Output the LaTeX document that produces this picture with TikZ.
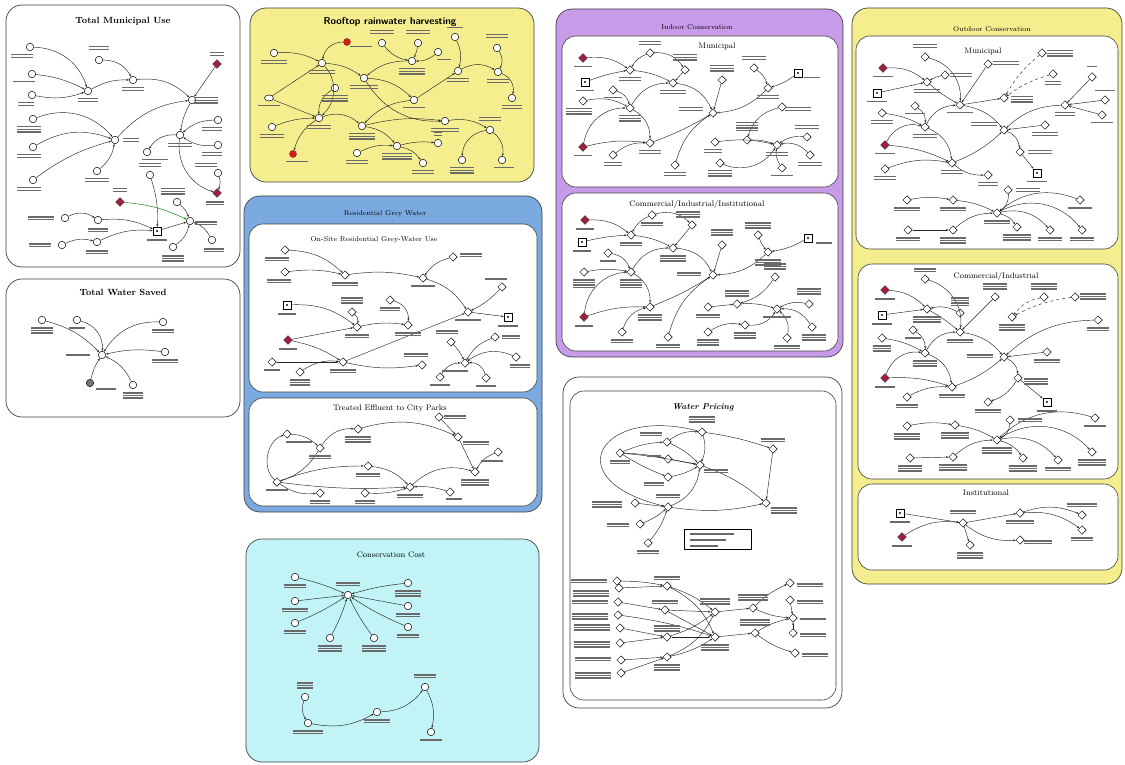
\documentclass[tikz,border=0pt]{standalone}
\usetikzlibrary{shapes.geometric,arrows.meta,calc}
\definecolor{yel}{HTML}{F4EE8E}
\definecolor{pur}{HTML}{C79BE8}
\definecolor{blu}{HTML}{7BAAE0}
\definecolor{cya}{HTML}{C2F3F6}
\definecolor{dred}{HTML}{9E1F3E}
\definecolor{rred}{HTML}{D0201C}
\definecolor{labc}{HTML}{6A6A6A}
\newcommand\Nd[3][v]{\node[#1] (#2) at (#3) {};}
\newcommand\E[3][]{\draw[cn,#1] (#2) to (#3);}
\newcommand\lb[4]{\pic at ($(#1)+(#2)$) {sm={#3}{#4}};}
\begin{document}
\begin{tikzpicture}[x=1pt,y=-1pt,
  v/.style={circle,draw=black,fill=white,line width=0.5pt,inner sep=0pt,minimum size=7.5pt},
  w/.style={diamond,draw=black,fill=white,line width=0.5pt,inner sep=0pt,minimum size=8.5pt},
  dm/.style={diamond,draw=black!80,fill=dred,line width=0.4pt,inner sep=0pt,minimum size=9pt},
  rc/.style={circle,draw=rred!70!black,fill=rred,inner sep=0pt,minimum size=7pt},
  sq/.style={rectangle,draw=black,fill=white,line width=0.5pt,inner sep=0pt,minimum size=8pt,
    path picture={\fill[black!70] ([shift={(-1.2pt,-1.2pt)}]path picture bounding box.center) rectangle ++(2.4pt,2.4pt);}},
  cld/.style={ellipse,draw=black,fill=white,line width=0.5pt,inner sep=0pt,minimum width=9pt,minimum height=6pt},
  cn/.style={draw=black!85,line width=0.45pt,-{Stealth[length=2.6pt,width=2pt]}},
  dcn/.style={cn,dashed},
  pnl/.style={draw=black!75,line width=0.7pt,rounded corners=16pt},
  ipnl/.style={draw=black!75,line width=0.6pt,fill=white,rounded corners=14pt},
  ttl/.style={font=\fontsize{9}{10}\selectfont\bfseries,inner sep=1pt},
  sttl/.style={font=\fontsize{7}{8}\selectfont,inner sep=1pt},
  mttl/.style={font=\fontsize{8}{9}\selectfont,inner sep=1pt},
  pics/sm/.style 2 args={code={\foreach \i in {1,...,#2}{\fill[labc] ({-#1/2},{(\i-1)*2.6}) rectangle ({#1/2},{(\i-1)*2.6+1.5});}}}
]
\useasboundingbox (0,0) rectangle (1125,765);
\fill[white] (0,0) rectangle (1125,765);

% ================= panels =================
\draw[pnl,fill=white] (6,5) rectangle (240,267);
\draw[pnl,fill=white] (6,279) rectangle (240,417);
\draw[pnl,fill=yel] (250,8) rectangle (534,182);
\draw[pnl,fill=blu] (244,196) rectangle (542,512);
\draw[ipnl] (249,224) rectangle (537,392);
\draw[ipnl] (249,398) rectangle (537,506);
\draw[pnl,fill=cya] (246,539) rectangle (539,762);
\draw[pnl,fill=pur] (556,9) rectangle (843,357);
\draw[ipnl] (562,36) rectangle (838,187);
\draw[ipnl] (562,193) rectangle (838,351);
\draw[pnl,fill=white] (563,377) rectangle (842,708);
\draw[draw=black!75,line width=0.6pt,rounded corners=14pt] (570,391) rectangle (836,700);
\draw[pnl,fill=yel] (852,8) rectangle (1122,584);
\draw[ipnl] (856,36) rectangle (1118,249);
\draw[ipnl] (858,264) rectangle (1118,479);
\draw[ipnl] (858,484) rectangle (1118,570);

% ================= titles =================
\node[ttl] (T1) at (123,21) {Total Municipal Use};
\node[ttl] (T2) at (123,292) {Total Water Saved};
\node[font=\fontsize{10}{11}\selectfont\sffamily\bfseries,inner sep=1pt] (T3) at (390,22) {Rooftop rainwater harvesting};
\node[sttl] (T4) at (385,214) {Residential Grey Water};
\node[sttl] (T5) at (374,240) {On-Site Residential Grey-Water Use};
\node[mttl] (T6) at (390,408) {Treated Effluent to City Parks};
\node[mttl] (T7) at (391,555) {Conservation Cost};
\node[sttl] (T8) at (697,27) {Indoor Conservation};
\node[mttl] (T9) at (717,47) {Municipal};
\node[mttl] (T10) at (697,205) {Commercial/Industrial/Institutional};
\node[font=\fontsize{8.5}{10}\selectfont\bfseries\itshape,inner sep=1pt] (T11) at (703,407) {Water Pricing};
\node[sttl] (T12) at (992,29) {Outdoor Conservation};
\node[mttl] (T13) at (983,52) {Municipal};
\node[mttl] (T14) at (996,276) {Commercial/Industrial};
\node[mttl] (T15) at (986,493) {Institutional};

% ================= Total Municipal Use =================
\Nd{a1}{30,47} \Nd{a2}{32,74} \Nd{a3}{32,95} \Nd{a4}{88,91} \Nd{a5}{99,60}
\Nd{a6}{133,80} \Nd{a7}{192,100} \Nd[dm]{a8}{217,64} \Nd{a9}{33,119} \Nd{a10}{33,147}
\Nd{a11}{33,180} \Nd{a12}{115,140} \Nd{a13}{97,171} \Nd{a14}{218,120} \Nd{a15}{218,145}
\Nd{a16}{180,135} \Nd{a17}{147,152} \Nd{a18}{150,175} \Nd{a19}{218,173} \Nd[dm]{a20}{217,193}
\Nd[dm]{a21}{120,202} \Nd{a22}{177,202} \Nd{a23}{190,221} \Nd{a24}{65,218} \Nd{a25}{98,220}
\Nd[sq]{a26}{157,231} \Nd{a27}{62,245} \Nd{a28}{97,242} \Nd{a29}{173,247} \Nd{a30}{212,240}
\E[bend left=35]{a1}{a4} \E[bend left=10]{a2}{a4} \E[bend right=15]{a3}{a4}
\E[bend left=30]{a5}{a6} \E[bend left=15]{a4}{a6} \E[bend left=25]{a6}{a7} \E{a8}{a7}
\E[bend left=35]{a9}{a12} \E[bend left=25]{a10}{a12} \E[bend left=10]{a11}{a12} \E[bend right=20]{a13}{a12}
\E[bend left=20]{a12}{a7} \E[bend right=10]{a7}{a16} \E[bend right=20]{a14}{a16} \E[bend left=20]{a15}{a16}
\E[bend right=30]{a16}{a17} \E[bend right=40]{a16}{a20} \E[bend left=20]{a19}{a20}
\E[bend left=10]{a18}{a26} \E[bend left=10,draw=green!50!black]{a21}{a23} \E[bend left=15]{a22}{a23}
\E[bend left=30]{a24}{a25} \E[bend left=15]{a25}{a26} \E{a26}{a23} \E[bend left=20]{a27}{a28}
\E[bend left=15]{a28}{a26} \E[bend right=20]{a29}{a23} \E[bend right=20]{a30}{a23}
\lb{a1}{-8,7}{22}{2} \lb{a2}{-8,7}{22}{1} \lb{a3}{-6,7}{16}{2} \lb{a4}{0,7}{20}{2} \lb{a5}{0,-14}{20}{2}
\lb{a6}{0,7}{22}{2} \lb{a7}{14,-3}{24}{3} \lb{a8}{0,-12}{14}{2} \lb{a9}{-4,7}{24}{3} \lb{a10}{-4,7}{24}{2}
\lb{a11}{-4,7}{24}{2} \lb{a12}{16,-2}{16}{2} \lb{a13}{0,7}{24}{2} \lb{a14}{-6,7}{20}{2} \lb{a15}{-6,7}{20}{2}
\lb{a16}{0,8}{24}{2} \lb{a17}{8,7}{26}{1} \lb{a18}{0,-12}{22}{2} \lb{a19}{-12,-10}{22}{2} \lb{a20}{-2,8}{18}{2}
\lb{a21}{0,-14}{14}{2} \lb{a22}{-4,-14}{24}{3} \lb{a23}{16,0}{22}{2} \lb{a24}{-24,-2}{26}{2} \lb{a25}{0,8}{20}{2}
\lb{a26}{0,8}{20}{1} \lb{a27}{-22,-2}{22}{2} \lb{a28}{0,8}{22}{2} \lb{a29}{0,8}{22}{3} \lb{a30}{2,8}{20}{2}

% ================= Total Water Saved =================
\Nd{b1}{42,320} \Nd{b2}{77,320} \Nd{b3}{102,355} \Nd{b4}{163,322} \Nd{b5}{165,352}
\node[circle,draw=black,fill=black!55,inner sep=0pt,minimum size=7.5pt] (b6) at (90,383) {};
\Nd{b7}{133,385}
\E[bend left=15]{b1}{b3} \E[bend left=40]{b2}{b3} \E[bend right=30]{b4}{b3} \E[bend right=10]{b5}{b3}
\E[bend left=10]{b6}{b3} \E[bend right=20]{b7}{b3}
\lb{b1}{0,7}{22}{3} \lb{b2}{0,7}{16}{1} \lb{b3}{-24,-1}{24}{1} \lb{b4}{0,7}{22}{2} \lb{b5}{0,7}{26}{2}
\lb{b6}{16,5}{20}{1} \lb{b7}{0,7}{20}{3}

% ================= Rooftop rainwater harvesting =================
\Nd[rc]{c1}{347,42} \Nd{c2}{274,53} \Nd{c3}{322,63} \Nd{c4}{382,43} \Nd{c5}{418,43}
\Nd{c6}{438,52} \Nd{c7}{412,61} \Nd{c8}{455,37} \Nd{c9}{497,48} \Nd{c10}{458,71}
\Nd{c11}{498,72} \Nd{c12}{364,78} \Nd{c13}{335,88} \Nd[cld]{c14}{269,98} \Nd{c15}{414,100}
\Nd{c16}{512,98} \Nd{c17}{319,118} \Nd{c18}{362,126} \Nd{c19}{445,121} \Nd{c20}{490,130}
\Nd{c21}{272,127} \Nd{c22}{397,146} \Nd{c23}{438,143} \Nd{c24}{357,153} \Nd[rc]{c25}{293,154}
\Nd{c26}{423,163} \Nd{c27}{462,160} \Nd{c28}{502,160}
\E[bend right=40]{c1}{c3} \E[bend left=15]{c2}{c3} \E[bend left=15]{c3}{c12} \E{c14}{c3} \E{c14}{c17}
\E[bend left=45]{c3}{c17} \E[bend right=30]{c13}{c17} \E[bend right=20]{c4}{c7} \E[bend left=10]{c5}{c7}
\E[bend left=20]{c6}{c7} \E[bend right=20]{c7}{c12} \E[bend right=30]{c12}{c19} \E[bend left=20]{c12}{c15}
\E[bend right=20]{c15}{c18} \E{c15}{c10} \E[bend left=20]{c8}{c10} \E[bend left=30]{c10}{c11}
\E[bend left=30]{c9}{c11} \E[bend left=40]{c11}{c16} \E[bend left=30]{c17}{c18} \E[bend left=10]{c18}{c19}
\E[bend left=20]{c19}{c20} \E[bend left=30]{c20}{c28} \E[bend right=40]{c20}{c27} \E[bend left=10]{c21}{c17}
\E[bend right=20]{c17}{c25} \E[bend left=20]{c18}{c22} \E[bend left=10]{c22}{c23} \E[bend left=20]{c22}{c26}
\E[bend left=15]{c24}{c22}
\lb{c1}{14,4}{22}{1} \lb{c2}{0,7}{26}{2} \lb{c3}{0,7}{26}{2} \lb{c4}{0,-13}{24}{2} \lb{c5}{0,-13}{24}{2}
\lb{c6}{6,7}{14}{1} \lb{c7}{0,7}{26}{3} \lb{c8}{0,-10}{16}{1} \lb{c9}{0,-14}{22}{2} \lb{c10}{0,7}{22}{2}
\lb{c11}{0,7}{22}{2} \lb{c12}{0,7}{28}{2} \lb{c13}{0,7}{26}{3} \lb{c14}{0,7}{22}{1} \lb{c15}{0,7}{22}{1}
\lb{c16}{0,7}{20}{2} \lb{c17}{0,7}{24}{2} \lb{c18}{0,7}{26}{3} \lb{c19}{0,7}{28}{2} \lb{c20}{0,-13}{22}{2}
\lb{c21}{0,7}{24}{2} \lb{c22}{0,7}{30}{3} \lb{c23}{0,-11}{8}{2} \lb{c24}{0,7}{22}{2} \lb{c25}{4,7}{22}{1}
\lb{c26}{0,7}{22}{2} \lb{c27}{0,7}{24}{3} \lb{c28}{2,7}{20}{1}

% ================= On-Site Residential Grey-Water Use =================
\Nd[w]{d1}{285,250} \Nd[w]{d2}{285,272} \Nd[w]{d3}{345,275} \Nd[w]{d4}{453,257} \Nd[w]{d5}{423,278}
\Nd[w]{d6}{502,287} \Nd[sq]{d7}{287,305} \Nd[w]{d8}{352,312} \Nd[w]{d9}{357,327} \Nd[w]{d10}{390,300}
\Nd[w]{d11}{408,325} \Nd[w]{d12}{468,312} \Nd[sq]{d13}{508,317} \Nd[dm]{d14}{288,340} \Nd[w]{d15}{272,362}
\Nd[w]{d16}{343,362} \Nd[w]{d17}{300,372} \Nd[w]{d18}{422,365} \Nd[w]{d19}{451,342} \Nd[w]{d20}{465,363}
\Nd[w]{d21}{495,337} \Nd[w]{d22}{516,357} \Nd[w]{d23}{440,377} \Nd[w]{d24}{486,378}
\E[bend left=20]{d1}{d3} \E[bend left=10]{d2}{d3} \E[bend left=10]{d3}{d5} \E[bend right=20]{d4}{d5}
\E[bend left=20]{d5}{d12} \E[bend left=10]{d6}{d12} \E{d12}{d13} \E[bend left=20]{d7}{d9}
\E[bend left=30]{d8}{d9} \E{d14}{d9} \E[bend left=10]{d14}{d16} \E[bend left=10]{d9}{d11}
\E[bend left=40]{d10}{d11} \E{d16}{d12} \E{d15}{d16} \E[bend left=20]{d17}{d16} \E[bend right=10]{d16}{d18}
\E[bend left=10]{d19}{d20} \E[bend right=20]{d21}{d20} \E[bend right=30]{d22}{d20} \E[bend left=30]{d23}{d20}
\E[bend right=40]{d24}{d20}
\lb{d1}{-8,7}{24}{2} \lb{d2}{-6,7}{24}{2} \lb{d3}{0,7}{26}{2} \lb{d4}{18,-4}{22}{2} \lb{d5}{0,7}{24}{1}
\lb{d6}{-6,-9}{22}{1} \lb{d7}{0,8}{18}{1} \lb{d8}{0,-15}{22}{3} \lb{d9}{0,7}{24}{2} \lb{d10}{0,7}{20}{2}
\lb{d11}{0,7}{26}{2} \lb{d12}{0,7}{26}{1} \lb{d13}{0,8}{20}{1} \lb{d14}{0,8}{18}{1} \lb{d15}{0,7}{16}{1}
\lb{d16}{0,7}{26}{2} \lb{d17}{0,7}{20}{3} \lb{d18}{-6,-12}{24}{2} \lb{d19}{-4,-12}{22}{2} \lb{d20}{-10,7}{26}{1}
\lb{d21}{16,-2}{18}{2} \lb{d22}{4,7}{20}{2} \lb{d23}{0,7}{20}{1} \lb{d24}{0,7}{20}{1}

% ================= Treated Effluent to City Parks =================
\Nd[w]{e1}{287,434} \Nd[w]{e2}{320,448} \Nd[w]{e3}{358,429} \Nd[w]{e4}{439,417} \Nd[w]{e5}{458,437}
\Nd[w]{e6}{498,452} \Nd[w]{e7}{475,472} \Nd[w]{e8}{277,482} \Nd[w]{e9}{368,466} \Nd[w]{e10}{410,487}
\Nd[w]{e11}{320,493} \Nd[w]{e12}{365,493} \Nd[w]{e13}{450,492}
\E[bend left=60]{e8}{e1} \E[bend left=20]{e1}{e2} \E[bend left=20]{e2}{e8} \E[bend left=30]{e2}{e3}
\E[bend left=20]{e3}{e5} \E{e4}{e5} \E{e5}{e7} \E[bend right=20]{e6}{e7} \E[bend left=10]{e8}{e9}
\E[bend left=20]{e9}{e10} \E[bend right=5]{e8}{e10} \E[bend left=30]{e10}{e7} \E[bend right=10]{e12}{e10}
\E[bend right=10]{e13}{e10} \E[bend right=20]{e8}{e11}
\lb{e1}{12,7}{26}{1} \lb{e2}{0,7}{22}{2} \lb{e3}{0,7}{26}{3} \lb{e4}{16,-2}{22}{2} \lb{e5}{18,4}{26}{2}
\lb{e6}{-6,8}{22}{1} \lb{e7}{0,7}{28}{3} \lb{e8}{0,7}{22}{1} \lb{e9}{0,7}{24}{2} \lb{e10}{0,7}{26}{2}
\lb{e11}{0,7}{20}{2} \lb{e12}{0,7}{20}{2} \lb{e13}{4,6}{16}{1}

% ================= Conservation Cost =================
\Nd{f1}{295,577} \Nd{f2}{295,601} \Nd{f3}{295,623} \Nd{f4}{348,595} \Nd{f5}{330,638}
\Nd{f6}{374,638} \Nd{f7}{408,583} \Nd{f8}{408,606} \Nd{f9}{408,627} \Nd{f10}{305,697}
\Nd{f11}{308,723} \Nd{f12}{377,712} \Nd{f13}{425,687} \Nd{f14}{431,732}
\E[bend left=5]{f1}{f4} \E{f2}{f4} \E[bend right=5]{f3}{f4} \E[bend right=5]{f5}{f4} \E[bend left=5]{f6}{f4}
\E[bend right=5]{f7}{f4} \E{f8}{f4} \E[bend left=5]{f9}{f4}
\E[bend right=25]{f10}{f11} \E[bend right=20]{f11}{f12} \E[bend right=25]{f12}{f13} \E[bend left=20]{f13}{f14}
\lb{f1}{0,7}{22}{2} \lb{f2}{0,7}{26}{2} \lb{f3}{0,7}{22}{2} \lb{f4}{0,-13}{24}{2} \lb{f5}{0,7}{24}{3}
\lb{f6}{0,7}{24}{3} \lb{f7}{0,7}{26}{3} \lb{f8}{0,7}{24}{2} \lb{f9}{0,7}{22}{2} \lb{f10}{0,-15}{16}{3}
\lb{f11}{0,7}{30}{2} \lb{f12}{0,7}{26}{2} \lb{f13}{0,-13}{22}{2} \lb{f14}{0,7}{22}{1}

% ================= Indoor: Municipal =================
\Nd[dm]{g1}{583,58} \Nd[w]{g2}{650,53} \Nd[w]{g3}{630,70} \Nd[sq]{g4}{585,82} \Nd[w]{g5}{685,70}
\Nd[w]{g6}{673,83} \Nd[w]{g7}{613,90} \Nd[w]{g8}{583,101} \Nd[w]{g9}{630,108} \Nd[dm]{g10}{583,147}
\Nd[w]{g11}{650,143} \Nd[w]{g12}{613,155} \Nd[w]{g13}{722,80} \Nd[w]{g14}{754,68} \Nd[w]{g15}{768,88}
\Nd[sq]{g16}{798,73} \Nd[w]{g17}{713,113} \Nd[w]{g18}{782,107} \Nd[w]{g19}{747,140} \Nd[w]{g20}{777,145}
\Nd[w]{g21}{807,137} \Nd[w]{g22}{810,155} \Nd[w]{g23}{715,142} \Nd[w]{g24}{675,165} \Nd[w]{g25}{720,163}
\Nd[w]{g26}{782,168}
\E[bend left=20]{g1}{g3} \E[bend right=20]{g2}{g3} \E[bend left=30]{g2}{g5} \E[bend left=5]{g4}{g3}
\E[bend left=10]{g3}{g6} \E{g5}{g6} \E[bend left=30]{g6}{g17} \E[bend left=30]{g9}{g6} \E[bend left=30]{g7}{g9}
\E[bend left=20]{g8}{g9} \E[bend left=30]{g9}{g11} \E[bend left=10]{g10}{g11} \E[bend left=40]{g10}{g9}
\E[bend left=20]{g12}{g11} \E[bend right=5]{g11}{g17} \E{g13}{g17} \E[bend left=20]{g14}{g15}
\E[bend left=10]{g16}{g15} \E[bend left=20]{g15}{g17} \E[bend left=20]{g24}{g17} \E[bend right=30]{g18}{g19}
\E[bend left=10]{g19}{g20} \E[bend right=20]{g21}{g20} \E[bend right=30]{g22}{g20} \E[bend left=10]{g23}{g20}
\E[bend right=40]{g25}{g20} \E[bend left=20]{g26}{g20}
\lb{g1}{0,8}{18}{1} \lb{g2}{0,-12}{22}{2} \lb{g3}{0,7}{22}{2} \lb{g4}{0,8}{18}{1} \lb{g5}{0,-16}{24}{3}
\lb{g6}{0,7}{26}{2} \lb{g7}{0,7}{18}{1} \lb{g8}{-4,7}{26}{3} \lb{g9}{0,7}{22}{3} \lb{g10}{0,8}{18}{1}
\lb{g11}{0,7}{22}{2} \lb{g12}{0,7}{18}{2} \lb{g13}{0,-15}{24}{3} \lb{g14}{0,-12}{24}{2} \lb{g15}{0,7}{22}{2}
\lb{g16}{14,4}{16}{1} \lb{g17}{-22,-6}{24}{2} \lb{g18}{16,0}{26}{2} \lb{g19}{0,-18}{22}{4} \lb{g20}{0,7}{22}{2}
\lb{g21}{0,-12}{24}{2} \lb{g22}{0,7}{24}{2} \lb{g23}{-2,7}{18}{2} \lb{g24}{0,7}{22}{2} \lb{g25}{0,7}{24}{3}
\lb{g26}{0,7}{22}{1}

% ================= Indoor: Commercial/Industrial/Institutional =================
\Nd[dm]{h1}{585,220} \Nd[w]{h2}{652,215} \Nd[w]{h3}{631,235} \Nd[w]{h4}{692,225} \Nd[sq]{h5}{582,242}
\Nd[w]{h6}{673,248} \Nd[w]{h7}{608,253} \Nd[w]{h8}{584,272} \Nd[w]{h9}{631,272} \Nd[w]{h10}{722,245}
\Nd[w]{h11}{758,235} \Nd[sq]{h12}{808,238} \Nd[w]{h13}{768,252} \Nd[w]{h14}{713,275} \Nd[w]{h15}{775,277}
\Nd[dm]{h16}{584,317} \Nd[w]{h17}{650,307} \Nd[w]{h18}{622,332} \Nd[w]{h19}{668,337} \Nd[w]{h20}{708,307}
\Nd[w]{h21}{737,304} \Nd[w]{h22}{777,309} \Nd[w]{h23}{809,304} \Nd[w]{h24}{745,325} \Nd[w]{h25}{708,332}
\Nd[w]{h26}{787,338} \Nd[w]{h27}{812,327}
\E[bend left=20]{h1}{h3} \E[bend right=20]{h2}{h3} \E[bend left=30]{h2}{h4} \E[bend left=5]{h5}{h3}
\E[bend left=10]{h3}{h6} \E{h4}{h6} \E[bend left=30]{h6}{h14} \E[bend left=30]{h9}{h6} \E[bend left=30]{h7}{h9}
\E[bend left=10]{h8}{h9} \E[bend left=30]{h9}{h17} \E[bend left=10]{h16}{h17} \E[bend left=40]{h16}{h9}
\E[bend left=30]{h18}{h17} \E[bend right=5]{h17}{h14} \E{h10}{h14} \E[bend right=10]{h11}{h13}
\E[bend left=10]{h12}{h13} \E[bend left=20]{h13}{h14} \E[bend left=20]{h19}{h14} \E[bend left=20]{h15}{h21}
\E{h20}{h21} \E[bend left=10]{h21}{h22} \E[bend right=20]{h23}{h22} \E[bend right=30]{h24}{h22}
\E[bend left=20]{h25}{h24} \E[bend right=30]{h26}{h22} \E[bend right=30]{h27}{h22}
\lb{h1}{0,8}{18}{1} \lb{h2}{0,7}{22}{2} \lb{h3}{0,7}{22}{2} \lb{h4}{-4,-14}{24}{3} \lb{h5}{0,8}{18}{1}
\lb{h6}{0,7}{26}{3} \lb{h7}{0,7}{16}{1} \lb{h8}{0,7}{22}{4} \lb{h9}{0,7}{22}{4} \lb{h10}{0,-16}{22}{3}
\lb{h11}{0,-13}{26}{3} \lb{h12}{16,4}{16}{1} \lb{h13}{0,7}{26}{3} \lb{h14}{-24,-3}{24}{2} \lb{h15}{0,-14}{22}{3}
\lb{h16}{0,8}{18}{1} \lb{h17}{0,7}{24}{3} \lb{h18}{0,7}{22}{2} \lb{h19}{0,7}{24}{2} \lb{h20}{0,7}{24}{2}
\lb{h21}{0,-14}{24}{3} \lb{h22}{0,7}{28}{1} \lb{h23}{0,-16}{24}{3} \lb{h24}{0,7}{22}{3} \lb{h25}{0,7}{22}{3}
\lb{h26}{0,7}{26}{2} \lb{h27}{2,7}{24}{3}

% ================= Water Pricing =================
\Nd[w]{p1}{702,432} \Nd[w]{p2}{773,449} \Nd[w]{p3}{620,453} \Nd[w]{p4}{667,442} \Nd[w]{p5}{668,459}
\Nd[w]{p6}{700,465} \Nd[w]{p7}{668,477} \Nd[w]{p8}{635,503} \Nd[w]{p9}{668,507} \Nd[w]{p10}{766,503}
\Nd[w]{p11}{640,524} \Nd[w]{p12}{648,543}
\node[draw=black,line width=0.6pt,minimum width=67pt,minimum height=20pt,inner sep=0pt] (leg) at (718,539) {};
\E[bend left=5]{p1}{p2} \E{p2}{p10} \E[bend left=10]{p3}{p4} \E[bend left=5]{p3}{p5} \E[bend left=3]{p3}{p6}
\E[bend right=5]{p3}{p7} \E[bend left=10]{p4}{p6} \E{p5}{p6} \E[bend right=10]{p7}{p6}
\draw[cn] (p1) .. controls (600,405) and (555,480) .. (p9);
\E[bend left=20]{p4}{p1} \E[bend left=20]{p1}{p6} \E[bend left=10]{p6}{p10} \E[bend right=10]{p9}{p10}
\E{p8}{p9} \E[bend right=10]{p11}{p9} \E[bend right=10]{p12}{p9} \E[bend right=30]{p9}{p6}
\lb{p1}{0,-16}{26}{3} \lb{p2}{0,-11}{24}{2} \lb{p3}{0,7}{20}{2} \lb{p4}{-16,-10}{22}{2} \lb{p5}{-14,-4}{14}{1}
\lb{p6}{16,4}{24}{2} \lb{p7}{-14,5}{20}{2} \lb{p8}{-28,-2}{30}{3} \lb{p9}{0,-13}{24}{2} \lb{p10}{18,4}{26}{3}
\lb{p11}{-22,-1}{22}{2} \lb{p12}{0,7}{22}{2}
\pic at (712,533) {sm={44}{1}}; \pic at (708,539) {sm={36}{1}}; \pic at (704,545) {sm={28}{1}};

\Nd[w]{q1}{617,581} \Nd[w]{q2}{619,588} \Nd[w]{q3}{618,602} \Nd[w]{q4}{618,615}
\Nd[w]{q5}{620,628} \Nd[w]{q6}{620,643} \Nd[w]{q7}{621,660} \Nd[w]{q8}{621,673}
\Nd[w]{r1}{667,586} \Nd[w]{r2}{665,610} \Nd[w]{r3}{667,637} \Nd[w]{r4}{667,657}
\Nd[w]{s1}{715,612} \Nd[w]{s2}{715,637} \Nd[w]{t1}{753,608} \Nd[w]{t2}{755,633}
\Nd[w]{u1}{790,583} \Nd[w]{u2}{790,600} \Nd[w]{u3}{793,618} \Nd[w]{u4}{793,633} \Nd[w]{u5}{795,653}
\E[bend left=5]{q1}{r1} \E{q2}{r1} \E{q3}{r2} \E[bend left=5]{q4}{s2} \E{q5}{r3} \E{q6}{r3}
\E{q7}{r4} \E{q8}{r4}
\E[bend left=20]{r1}{s2} \E[bend left=10]{r1}{s1} \E{r2}{s1} \E{r2}{s2} \E[bend right=10]{r3}{s1}
\E{r3}{s2} \E[bend right=20]{r4}{s1} \E[bend right=10]{r4}{s2}
\E{s1}{t1} \E{s2}{t2} \E[bend right=10]{t1}{u3} \E[bend left=10]{t2}{u3} \E[bend left=10]{t1}{u1}
\E{u2}{u3} \E{u4}{u3} \E[bend right=10]{t2}{u5}
\lb{q1}{-28,-2}{36}{2} \lb{q2}{-28,2}{36}{3} \lb{q3}{-28,-2}{36}{2} \lb{q4}{-28,-2}{36}{3}
\lb{q5}{-28,-4}{36}{3} \lb{q6}{-28,-2}{36}{3} \lb{q7}{-28,-3}{36}{2} \lb{q8}{-28,-1}{36}{3}
\lb{r1}{0,-10}{26}{2} \lb{r2}{0,-10}{26}{2} \lb{r3}{0,-12}{26}{3} \lb{r4}{0,7}{26}{3}
\lb{s1}{0,-14}{30}{3} \lb{s2}{0,7}{28}{3} \lb{t1}{0,-14}{30}{3} \lb{t2}{0,-14}{30}{3}
\lb{u1}{20,0}{26}{2} \lb{u2}{20,0}{26}{2} \lb{u3}{20,0}{26}{1} \lb{u4}{20,0}{26}{2} \lb{u5}{20,0}{26}{2}

% ================= Outdoor: Municipal =================
\Nd[w]{k1}{925,57} \Nd[dm]{k2}{883,68} \Nd[w]{k3}{945,75} \Nd[w]{k4}{988,64} \Nd[w]{k5}{1042,53}
\Nd[w]{k6}{1053,74} \Nd[w]{k7}{927,82} \Nd[sq]{k8}{877,93} \Nd[w]{k9}{1004,98} \Nd[w]{k10}{960,105}
\Nd[w]{k11}{1092,77} \Nd[w]{k12}{1105,100} \Nd[w]{k13}{1065,105} \Nd[w]{k14}{1102,115} \Nd[w]{k15}{915,106}
\Nd[w]{k16}{882,113} \Nd[w]{k17}{925,127} \Nd[dm]{k18}{885,145} \Nd[w]{k19}{1004,130} \Nd[w]{k20}{1045,125}
\Nd[w]{k21}{1020,152} \Nd[w]{k22}{952,163} \Nd[w]{k23}{988,175} \Nd[sq]{k24}{1037,173} \Nd[w]{k25}{885,169}
\Nd[w]{k26}{907,200} \Nd[w]{k27}{953,200} \Nd[w]{k28}{1008,190} \Nd[w]{k29}{1080,200} \Nd[w]{k30}{997,213}
\Nd[w]{k31}{908,230} \Nd[w]{k32}{953,230} \Nd[w]{k33}{1017,227} \Nd[w]{k34}{1050,230} \Nd[w]{k35}{1082,230}
\E[bend left=20]{k2}{k7} \E[bend left=40]{k1}{k10} \E[bend right=10]{k3}{k7} \E{k8}{k7} \E{k4}{k10}
\E[bend right=5]{k7}{k10} \E[bend left=20]{k10}{k19} \E[dcn,bend right=10]{k5}{k9} \E[dcn,bend right=10]{k6}{k9}
\E{k10}{k9} \E[bend left=30]{k15}{k17} \E[bend left=10]{k16}{k17} \E[bend left=30]{k17}{k10}
\E[bend left=30]{k17}{k22} \E[bend left=10]{k18}{k22} \E[bend left=40]{k18}{k17} \E[bend left=15]{k25}{k22}
\E[bend right=10]{k22}{k19} \E{k11}{k13} \E{k12}{k13} \E{k14}{k13} \E[bend right=20]{k13}{k19}
\E{k20}{k19} \E[bend left=30]{k19}{k21} \E{k21}{k24} \E[bend right=20]{k22}{k23}
\E[bend left=10]{k26}{k27} \E[bend left=10]{k27}{k30} \E[bend left=30]{k28}{k30} \E[bend right=30]{k29}{k30}
\E{k31}{k32} \E[bend left=20]{k32}{k30} \E[bend left=20]{k30}{k33} \E[bend left=30]{k30}{k34} \E[bend left=40]{k30}{k35}
\lb{k1}{0,-13}{24}{2} \lb{k2}{0,8}{20}{1} \lb{k3}{16,-2}{22}{2} \lb{k4}{18,-3}{26}{2} \lb{k5}{18,-3}{26}{3}
\lb{k6}{0,7}{16}{2} \lb{k7}{0,7}{26}{2} \lb{k8}{0,8}{20}{1} \lb{k9}{18,-2}{22}{3} \lb{k10}{0,7}{26}{1}
\lb{k11}{0,-11}{10}{1} \lb{k12}{0,-10}{20}{1} \lb{k13}{0,7}{20}{2} \lb{k14}{0,7}{22}{1} \lb{k15}{0,7}{20}{1}
\lb{k16}{0,7}{22}{2} \lb{k17}{0,7}{24}{2} \lb{k18}{0,8}{20}{1} \lb{k19}{-20,-8}{26}{2} \lb{k20}{0,7}{26}{2}
\lb{k21}{20,-2}{24}{2} \lb{k22}{0,7}{22}{2} \lb{k23}{0,7}{20}{2} \lb{k24}{0,8}{20}{1} \lb{k25}{0,7}{22}{2}
\lb{k26}{0,7}{26}{2} \lb{k27}{0,7}{26}{2} \lb{k28}{20,-2}{24}{2} \lb{k29}{0,7}{24}{1} \lb{k30}{0,7}{26}{2}
\lb{k31}{0,7}{24}{2} \lb{k32}{0,7}{26}{3} \lb{k33}{0,7}{28}{3} \lb{k34}{0,7}{24}{2} \lb{k35}{0,7}{24}{2}

% ================= Outdoor: Commercial/Industrial =================
\Nd[w]{m1}{925,279} \Nd[dm]{m2}{885,290} \Nd[w]{m3}{995,297} \Nd[w]{m4}{1044,297} \Nd[w]{m5}{1075,297}
\Nd[w]{m6}{927,309} \Nd[w]{m7}{1012,317} \Nd[w]{m8}{960,313} \Nd[sq]{m9}{882,315} \Nd[w]{m10}{1098,320}
\Nd[w]{m11}{913,330} \Nd[w]{m12}{960,332} \Nd[w]{m13}{882,338} \Nd[w]{m14}{925,353} \Nd[w]{m15}{1047,352}
\Nd[w]{m16}{1004,357} \Nd[dm]{m17}{885,378} \Nd[w]{m18}{1018,378} \Nd[w]{m19}{952,387} \Nd[w]{m20}{988,402}
\Nd[sq]{m21}{1047,402} \Nd[w]{m22}{907,397} \Nd[w]{m23}{907,426} \Nd[w]{m24}{955,425} \Nd[w]{m25}{1010,420}
\Nd[w]{m26}{1095,418} \Nd[w]{m27}{997,440} \Nd[w]{m28}{910,458} \Nd[w]{m29}{953,457} \Nd[w]{m30}{1023,458}
\Nd[w]{m31}{1058,460} \Nd[w]{m32}{1092,452}
\E[bend left=20]{m2}{m6} \E[bend left=40]{m1}{m12} \E{m9}{m6} \E[bend right=20]{m8}{m6} \E[bend left=5]{m6}{m12}
\E{m3}{m12} \E[bend left=20]{m12}{m16} \E[dcn,bend right=20]{m4}{m7} \E[dcn,bend right=10]{m5}{m7}
\E[bend left=30]{m11}{m14} \E[bend left=10]{m13}{m14} \E[bend left=30]{m14}{m12} \E[bend left=30]{m14}{m19}
\E[bend left=10]{m17}{m19} \E[bend left=40]{m17}{m14} \E[bend left=15]{m22}{m19} \E[bend right=10]{m19}{m16}
\E[bend right=20]{m10}{m16} \E{m15}{m16} \E[bend left=30]{m16}{m18} \E{m18}{m21} \E[bend left=20]{m18}{m20}
\E[bend left=10]{m23}{m24} \E[bend left=10]{m24}{m27} \E[bend left=30]{m25}{m27} \E[bend right=30]{m26}{m27}
\E{m28}{m29} \E[bend left=20]{m29}{m27} \E[bend left=20]{m27}{m30} \E[bend left=30]{m27}{m31} \E[bend left=40]{m27}{m32}
\lb{m1}{0,-11}{22}{2} \lb{m2}{0,8}{20}{1} \lb{m3}{0,-14}{24}{3} \lb{m4}{0,-14}{26}{3} \lb{m5}{18,-4}{26}{3}
\lb{m6}{0,7}{28}{3} \lb{m7}{0,7}{26}{3} \lb{m8}{0,-16}{18}{4} \lb{m9}{0,8}{20}{1} \lb{m10}{0,7}{22}{2}
\lb{m11}{0,7}{16}{1} \lb{m12}{0,7}{26}{2} \lb{m13}{0,7}{18}{3} \lb{m14}{0,7}{24}{3} \lb{m15}{0,7}{26}{2}
\lb{m16}{-24,-3}{26}{2} \lb{m17}{0,8}{20}{1} \lb{m18}{18,0}{24}{3} \lb{m19}{0,7}{26}{2} \lb{m20}{0,7}{26}{2}
\lb{m21}{0,8}{20}{1} \lb{m22}{0,7}{22}{2} \lb{m23}{0,7}{26}{3} \lb{m24}{0,7}{28}{3} \lb{m25}{20,-2}{24}{2}
\lb{m26}{0,7}{22}{1} \lb{m27}{0,7}{30}{3} \lb{m28}{0,7}{24}{3} \lb{m29}{0,7}{28}{3} \lb{m30}{0,7}{28}{3}
\lb{m31}{0,7}{26}{2} \lb{m32}{0,7}{28}{3}

% ================= Outdoor: Institutional =================
\Nd[sq]{n1}{900,513} \Nd[w]{n2}{963,523} \Nd[w]{n3}{1020,513} \Nd[w]{n4}{1082,515} \Nd[dm]{n5}{902,537}
\Nd[w]{n6}{1020,540} \Nd[w]{n7}{1082,530} \Nd[w]{n8}{970,545}
\E{n1}{n2} \E[bend left=20]{n5}{n2} \E{n2}{n3} \E[bend left=20]{n3}{n4} \E[bend left=20]{n3}{n7}
\E[bend right=20]{n2}{n6} \E{n2}{n8}
\lb{n1}{0,8}{20}{1} \lb{n2}{0,-13}{26}{2} \lb{n3}{0,7}{28}{2} \lb{n4}{0,-12}{30}{2} \lb{n5}{0,8}{20}{1}
\lb{n6}{18,0}{28}{2} \lb{n7}{0,7}{22}{2} \lb{n8}{0,7}{26}{3}
\end{tikzpicture}
\end{document}
